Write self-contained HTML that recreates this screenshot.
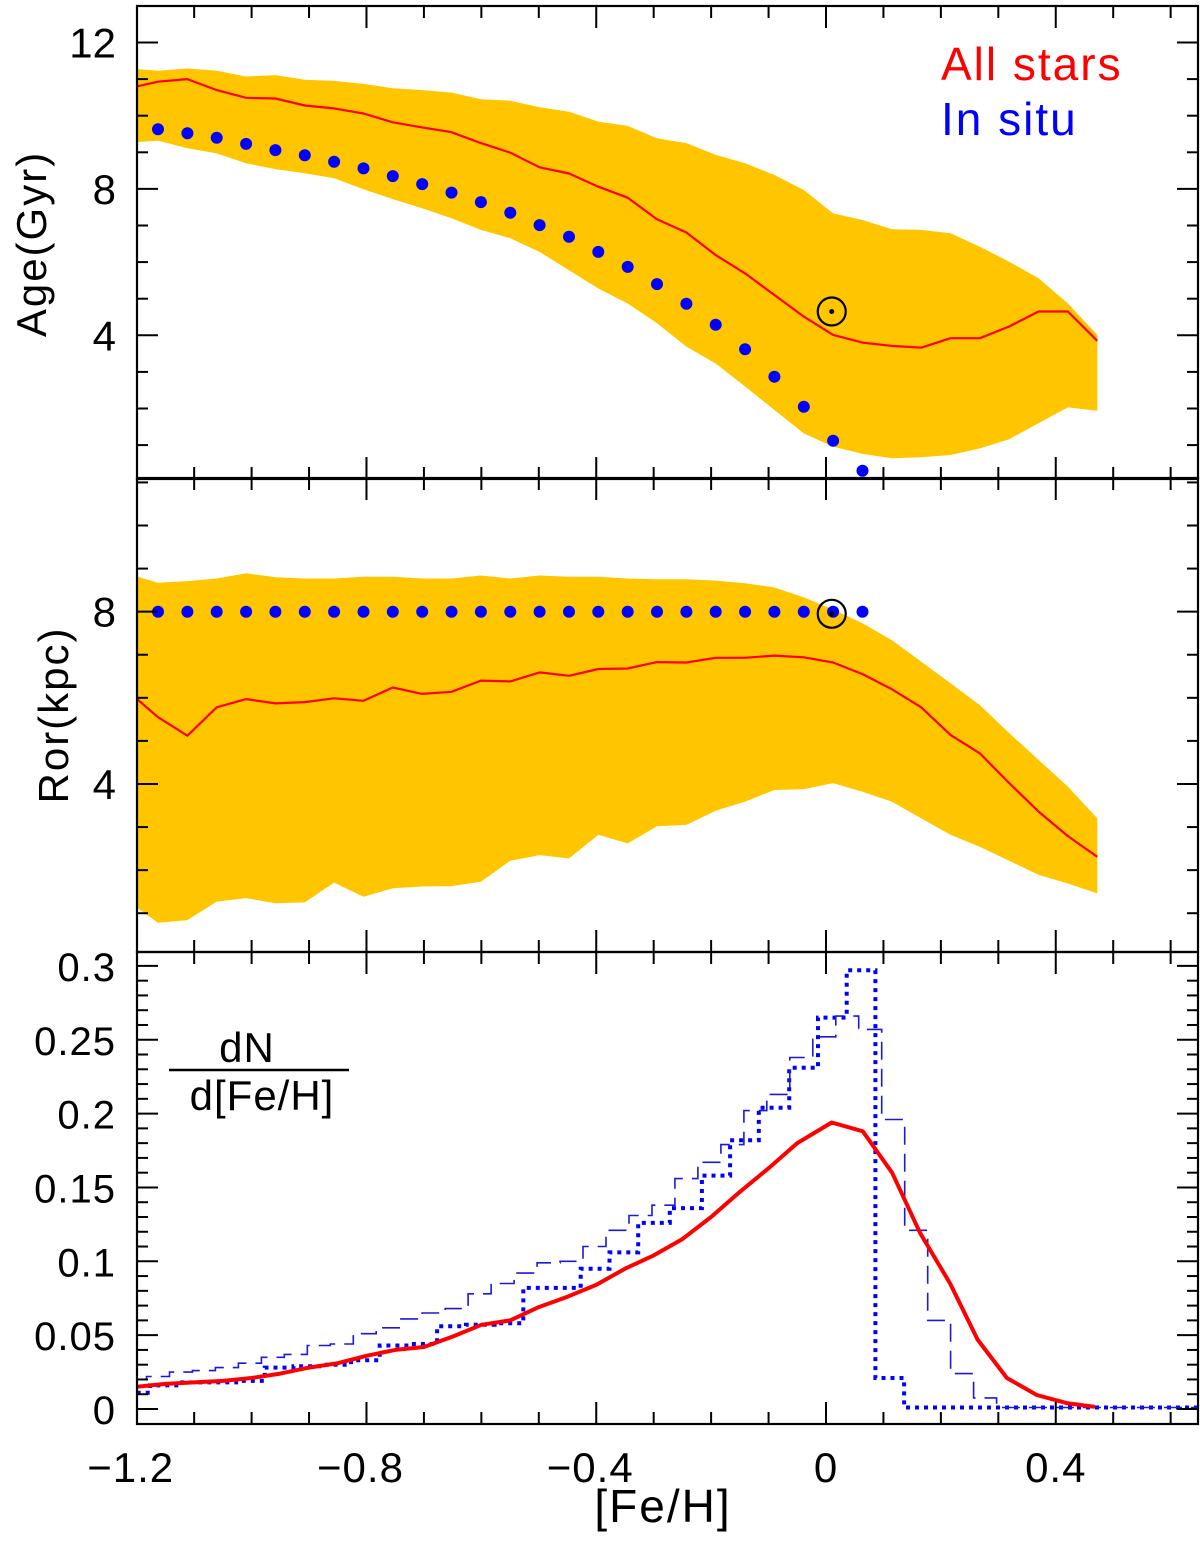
<!DOCTYPE html>
<html><head><meta charset="utf-8"><style>
html,body{margin:0;padding:0;background:#fff}
svg{display:block}
text{font-family:"Liberation Sans",sans-serif;fill:#000}
</style></head><body>
<svg id="fig" width="1200" height="1553" viewBox="0 0 1200 1553" xmlns="http://www.w3.org/2000/svg">
<defs>
<clipPath id="cTop"><rect x="137" y="6" width="1061" height="473"/></clipPath>
<clipPath id="cMid"><rect x="137" y="478" width="1061" height="474"/></clipPath>
<clipPath id="cBot"><rect x="137" y="952" width="1061" height="472"/></clipPath>
</defs>
<g id="topPanel"></g>
<g id="midPanel"></g>
<g id="botPanel"></g>
<g id="axes"></g>
<text x="0" y="0" font-size="42" letter-spacing="2" text-anchor="middle" transform="translate(46,244) rotate(-90)">Age(Gyr)</text>
<text x="0" y="0" font-size="42" letter-spacing="2" text-anchor="middle" transform="translate(68,715) rotate(-90)">Ror(kpc)</text>
<text x="941" y="80" font-size="46" letter-spacing="2" style="fill:#f00">All stars</text>
<text x="941" y="135" font-size="46" letter-spacing="2" style="fill:#00f">In situ</text>
<text x="663" y="1522" font-size="46" letter-spacing="2" text-anchor="middle">[Fe/H]</text>
<g>
<text x="247" y="1062" font-size="42" letter-spacing="1" text-anchor="middle">dN</text>
<line x1="169" y1="1070" x2="349" y2="1070" stroke="#000" stroke-width="2.5"/>
<text x="262" y="1110" font-size="42" letter-spacing="1" text-anchor="middle">d[Fe/H]</text>
</g>
</svg>
<script>
// ---- data ----
const gridStart = -1.214;
const gridStep = 0.0511;
const ageRed = [10.75,10.93,11.0,10.70,10.49,10.47,10.28,10.2,10.06,9.82,9.68,9.55,9.25,8.99,8.59,8.42,8.06,7.76,7.17,6.81,6.19,5.69,5.10,4.51,4.01,3.80,3.71,3.66,3.92,3.92,4.24,4.65,4.65,3.85];
const ageUpper = [11.29,11.23,11.29,11.23,11.07,11.11,10.98,10.95,10.87,10.75,10.70,10.63,10.45,10.41,10.23,10.11,9.84,9.72,9.38,9.25,8.93,8.70,8.38,7.97,7.33,7.15,6.90,6.88,6.79,6.42,6.01,5.56,4.87,4.01];
const ageLower = [9.26,9.32,9.11,8.97,8.70,8.54,8.43,8.29,7.99,7.72,7.47,7.20,6.88,6.65,6.28,5.78,5.28,4.87,4.33,3.69,3.23,2.60,1.96,1.32,0.96,0.76,0.64,0.67,0.73,0.91,1.16,1.60,2.03,1.94];
const ageInSitu = [9.63,9.52,9.40,9.23,9.06,8.92,8.74,8.56,8.35,8.13,7.90,7.64,7.35,7.01,6.69,6.28,5.87,5.40,4.86,4.29,3.62,2.87,2.05,1.12,0.30];
const rorRed = [6.14,5.55,5.12,5.78,5.97,5.87,5.90,5.99,5.93,6.24,6.09,6.14,6.40,6.38,6.59,6.51,6.67,6.68,6.83,6.82,6.93,6.93,6.98,6.94,6.82,6.55,6.20,5.78,5.14,4.71,4.02,3.36,2.79,2.31];
const rorUpper = [8.87,8.67,8.71,8.77,8.89,8.80,8.77,8.77,8.81,8.81,8.77,8.77,8.84,8.77,8.84,8.81,8.81,8.77,8.75,8.75,8.72,8.66,8.56,8.33,8.05,7.73,7.34,6.84,6.34,5.83,5.18,4.56,3.94,3.20];
const rorLower = [1.27,0.78,0.84,1.27,1.35,1.23,1.25,1.71,1.38,1.58,1.62,1.63,1.73,2.22,2.35,2.27,2.82,2.62,3.02,3.05,3.38,3.59,3.86,3.88,4.02,3.82,3.59,3.20,2.82,2.54,2.22,1.89,1.69,1.46];
const rorInSitu = [8,8,8,8,8,8,8,8,8,8,8,8,8,8,8,8,8,8,8,8,8,8,8,8,8];
const sunFeH = 0.01, sunAge = 4.65, sunRor = 7.95;
const mdfRedX = [-1.2,-1.15,-1.1,-1.05,-1.0,-0.95,-0.9,-0.85,-0.8,-0.75,-0.7,-0.65,-0.6,-0.55,-0.5,-0.45,-0.4,-0.35,-0.3,-0.25,-0.2,-0.15,-0.1,-0.05,0.01,0.064,0.115,0.164,0.216,0.264,0.315,0.367,0.419,0.468];
const mdfRedY = [0.015,0.017,0.018,0.019,0.021,0.024,0.028,0.031,0.036,0.040,0.042,0.049,0.057,0.060,0.069,0.076,0.084,0.095,0.104,0.115,0.130,0.147,0.163,0.180,0.194,0.188,0.160,0.119,0.085,0.047,0.021,0.0095,0.004,0.0015];
const dotEdges = [-1.2,-1.177,-1.127,-1.077,-1.027,-0.977,-0.927,-0.877,-0.827,-0.777,-0.727,-0.677,-0.627,-0.577,-0.527,-0.477,-0.427,-0.377,-0.327,-0.272,-0.216,-0.167,-0.117,-0.064,-0.014,0.036,0.086,0.136,0.65];
const dotVals = [0.011,0.016,0.018,0.018,0.019,0.028,0.029,0.030,0.033,0.043,0.044,0.056,0.057,0.058,0.082,0.082,0.095,0.106,0.126,0.136,0.158,0.182,0.204,0.231,0.265,0.297,0.021,0.001];
const dashStart = -1.183, dashWidth = 0.04, dashEnd = 0.65, dashFirst = 0.020;
const dashVals = [0.022,0.025,0.026,0.028,0.031,0.035,0.037,0.043,0.044,0.051,0.055,0.061,0.065,0.068,0.078,0.085,0.092,0.099,0.100,0.110,0.121,0.131,0.138,0.156,0.167,0.179,0.202,0.213,0.238,0.252,0.266,0.257,0.196,0.121,0.060,0.024,0.0075,0.001];
const yTicksAge = [4,8,12];
const yTicksRor = [4,8];
const yTicksMdf = ["0","0.05","0.1","0.15","0.2","0.25","0.3"];
const xTickLabels = ["\u22121.2","\u22120.8","\u22120.4","0","0.4"];
const xTickVals = [-1.2,-0.8,-0.4,0,0.4];

(function(){
const X0=137, X1=1198;
const xS = v => 826 + v*574.4;
const yA = v => 481.7 - 36.6*v;
const yR = v => 956.3 - 43.08*v;
const yF = v => 1409 - 1477*v;
const NS="http://www.w3.org/2000/svg";
function mk(tag, attrs, parent){const e=document.createElementNS(NS,tag);for(const k in attrs)e.setAttribute(k,attrs[k]);parent.appendChild(e);return e;}
const gx = i => gridStart + gridStep*i;

function band(parent, up, lo, ys, clip, name){
  let d="M"; up.forEach((v,i)=>{d+=(i?" L":"")+xS(gx(i)).toFixed(1)+","+ys(v).toFixed(1);});
  for(let i=lo.length-1;i>=0;i--) d+=" L"+xS(gx(i)).toFixed(1)+","+ys(lo[i]).toFixed(1);
  const p=mk("path",{d:d+" Z",fill:"#ffc600","clip-path":clip},parent);
  
  
}
function line(parent, vals, ys, clip, name, w){
  let d=""; vals.forEach((v,i)=>{d+=(i?" L":"M")+xS(gx(i)).toFixed(1)+","+ys(v).toFixed(1);});
  const p=mk("path",{d:d,fill:"none",stroke:"#f00","stroke-width":w,"clip-path":clip,"stroke-linejoin":"round"},parent);
  
  
}
function dots(parent, vals, ys, name){
  vals.forEach((v,i)=>{
    const c=mk("circle",{cx:xS(gx(i+1)).toFixed(1),cy:ys(v).toFixed(1),r:6,fill:"#00f"},parent);
    
    
  });
}
function sun(parent, ys, v, name){
  const g=mk("g",{},parent);
  
  
  mk("circle",{cx:xS(sunFeH),cy:ys(v),r:14,fill:"none",stroke:"#000","stroke-width":2.2},g);
  mk("circle",{cx:xS(sunFeH),cy:ys(v),r:2.5,fill:"#000"},g);
}
const pTop=document.getElementById("topPanel"), pMid=document.getElementById("midPanel"), pBot=document.getElementById("botPanel");
band(pTop, ageUpper, ageLower, yA, "url(#cTop)", "age-spread-band");
line(pTop, ageRed, yA, "url(#cTop)", "age-all-stars-line", 2.2);
dots(pTop, ageInSitu, yA, "age-in-situ-point");
sun(pTop, yA, sunAge, "sun-marker-age");
band(pMid, rorUpper, rorLower, yR, "url(#cMid)", "ror-spread-band");
line(pMid, rorRed, yR, "url(#cMid)", "ror-all-stars-line", 2.2);
dots(pMid, rorInSitu, yR, "ror-in-situ-point");
sun(pMid, yR, sunRor, "sun-marker-ror");

let d="M"+xS(dotEdges[0]).toFixed(1)+","+yF(dotVals[0]).toFixed(1);
for(let i=0;i<dotVals.length;i++){
  d+=" L"+xS(dotEdges[i+1]).toFixed(1)+","+yF(dotVals[i]).toFixed(1);
  if(i+1<dotVals.length) d+=" L"+xS(dotEdges[i+1]).toFixed(1)+","+yF(dotVals[i+1]).toFixed(1);
}
const p=mk("path",{d:d,fill:"none",stroke:"#00f","stroke-width":4,"stroke-dasharray":"4 5","clip-path":"url(#cBot)"},pBot);


let e="M"+xS(-1.2).toFixed(1)+","+yF(dashFirst).toFixed(1)+" L"+xS(dashStart).toFixed(1)+","+yF(dashFirst).toFixed(1);
for(let i=0;i<dashVals.length;i++){
  const l=dashStart+i*dashWidth, r=(i==dashVals.length-1)?dashEnd:l+dashWidth;
  e+=" L"+xS(l).toFixed(1)+","+yF(dashVals[i]).toFixed(1)+" L"+xS(r).toFixed(1)+","+yF(dashVals[i]).toFixed(1);
}
const q=mk("path",{d:e,fill:"none",stroke:"#1a1ad8","stroke-width":1.6,"stroke-dasharray":"18 9","clip-path":"url(#cBot)"},pBot);


let f=""; mdfRedX.forEach((x,i)=>{f+=(i?" L":"M")+xS(x).toFixed(1)+","+yF(mdfRedY[i]).toFixed(1);});
const rl=mk("path",{d:f,fill:"none",stroke:"#f00","stroke-width":4,"stroke-linejoin":"round","clip-path":"url(#cBot)"},pBot);



const ax=document.getElementById("axes");
const panels=[[6,479],[478,952],[952,1424]];
panels.forEach(([t,b])=>{
  mk("rect",{x:X0,y:t,width:X1-X0,height:b-t,fill:"none",stroke:"#000","stroke-width":2.2},ax);
  for(let k=-12;k<=6;k++){
    const v=k/10, x=xS(v); if(x<X0+1||x>X1-1) continue;
    const len=(k%4===0)?22:12;
    mk("line",{x1:x,y1:b,x2:x,y2:b-len,stroke:"#000","stroke-width":2},ax);
    mk("line",{x1:x,y1:t,x2:x,y2:t+len,stroke:"#000","stroke-width":2},ax);
  }
});
function yticks(ys, from, to, step, majorEvery, t, b){
  for(let k=from;k<=to;k++){
    const y=ys(k*step); if(y<t+1||y>b-1) continue;
    const len=(k%majorEvery===0)?21:11;
    mk("line",{x1:X0,y1:y,x2:X0+len,y2:y,stroke:"#000","stroke-width":2},ax);
    mk("line",{x1:X1,y1:y,x2:X1-len,y2:y,stroke:"#000","stroke-width":2},ax);
  }
}
yticks(yA,0,13,1,4,6,479);
yticks(yR,0,11,1,4,478,952);
yticks(yF,0,30,0.01,5,952,1424);
yTicksAge.forEach(v=>{const t=mk("text",{x:116,y:yA(v)+15,"font-size":42,"text-anchor":"end"},ax);t.textContent=v;
  
  });
yTicksRor.forEach(v=>{const t=mk("text",{x:116,y:yR(v)+15,"font-size":42,"text-anchor":"end"},ax);t.textContent=v;
  
  });
yTicksMdf.forEach(s=>{const t=mk("text",{x:116,y:yF(parseFloat(s))+15,"font-size":40,"letter-spacing":"1","text-anchor":"end"},ax);t.textContent=s;
  
  });
xTickVals.forEach((v,i)=>{const t=mk("text",{x:xS(v)+(v<0?-6:0),y:1482,"font-size":42,"letter-spacing":"1","text-anchor":"middle"},ax);t.textContent=xTickLabels[i];
  
  });
})();
</script>
</body></html>
